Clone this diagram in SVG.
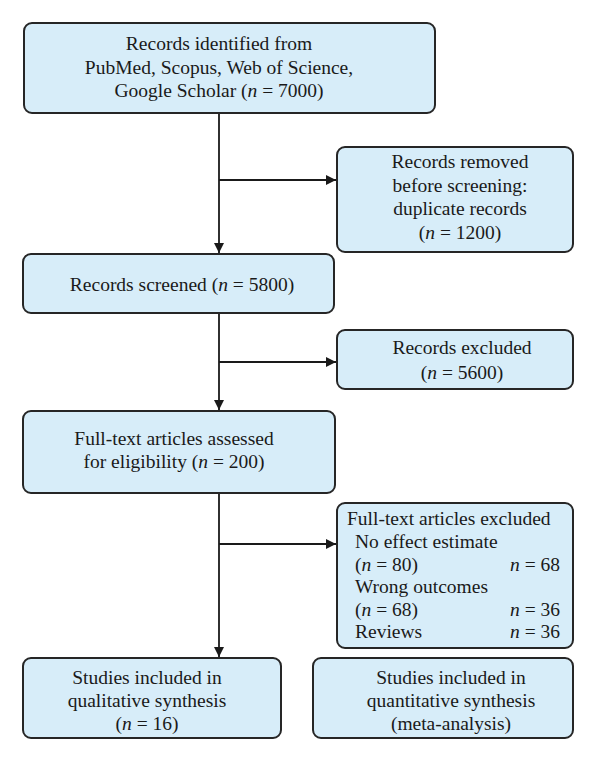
<svg xmlns="http://www.w3.org/2000/svg" width="600" height="763" viewBox="0 0 600 763">
<defs>
<style>
.box{fill:#d7edf9;stroke:#262626;stroke-width:2}
.t{font-family:"Liberation Serif","Times New Roman",serif;font-size:19.5px;fill:#1a1a1a}
.c{text-anchor:middle}
.r{text-anchor:end}
.ln{stroke:#1a1a1a;stroke-width:1.8;fill:none}
</style>
<marker id="ah" viewBox="0 0 10 10" refX="10" refY="5" markerWidth="10" markerHeight="10" markerUnits="userSpaceOnUse" orient="auto">
<path d="M0,0 L10,5 L0,10 z" fill="#1a1a1a"/>
</marker>
</defs>
<rect width="600" height="763" fill="#ffffff"/>
<g id="connectors">
<line class="ln" x1="219" y1="113" x2="219" y2="253" marker-end="url(#ah)"/>
<line class="ln" x1="219" y1="180" x2="336" y2="180" marker-end="url(#ah)"/>
<line class="ln" x1="219" y1="313" x2="219" y2="410" marker-end="url(#ah)"/>
<line class="ln" x1="219" y1="362" x2="336" y2="362" marker-end="url(#ah)"/>
<line class="ln" x1="219" y1="493" x2="219" y2="657" marker-end="url(#ah)"/>
<line class="ln" x1="219" y1="544" x2="336" y2="544" marker-end="url(#ah)"/>
</g>
<g id="n1">
<rect class="box" x="24" y="23" width="411" height="90" rx="8"/>
<text class="t c" x="219" y="50">Records identified from</text>
<text class="t c" x="219" y="74">PubMed, Scopus, Web of Science,</text>
<text class="t c" x="219" y="97">Google Scholar (<tspan font-style="italic">n</tspan> = 7000)</text>
</g>
<g id="n2">
<rect class="box" x="337" y="147" width="236" height="105" rx="8"/>
<text class="t c" x="460" y="168">Records removed</text>
<text class="t c" x="460" y="192">before screening:</text>
<text class="t c" x="460" y="215">duplicate records</text>
<text class="t c" x="460" y="239">(<tspan font-style="italic">n</tspan> = 1200)</text>
</g>
<g id="n3">
<rect class="box" x="23" y="254" width="311" height="59" rx="8"/>
<text class="t c" x="182" y="291">Records screened (<tspan font-style="italic">n</tspan> = 5800)</text>
</g>
<g id="n4">
<rect class="box" x="337" y="330" width="236" height="59" rx="8"/>
<text class="t c" x="462" y="354">Records excluded</text>
<text class="t c" x="462" y="379">(<tspan font-style="italic">n</tspan> = 5600)</text>
</g>
<g id="n5">
<rect class="box" x="23" y="411" width="312" height="82" rx="8"/>
<text class="t c" x="174" y="445">Full-text articles assessed</text>
<text class="t c" x="174" y="468">for eligibility (<tspan font-style="italic">n</tspan> = 200)</text>
</g>
<g id="n6">
<rect class="box" x="337" y="503" width="236" height="145" rx="8"/>
<text class="t" x="347" y="525">Full-text articles excluded</text>
<text class="t" x="355" y="548">No effect estimate</text>
<text class="t" x="355" y="571">(<tspan font-style="italic">n</tspan> = 80)</text>
<text class="t r" x="560" y="571"><tspan font-style="italic">n</tspan> = 68</text>
<text class="t" x="355" y="593">Wrong outcomes</text>
<text class="t" x="355" y="616">(<tspan font-style="italic">n</tspan> = 68)</text>
<text class="t r" x="560" y="616"><tspan font-style="italic">n</tspan> = 36</text>
<text class="t" x="355" y="638">Reviews</text>
<text class="t r" x="560" y="638"><tspan font-style="italic">n</tspan> = 36</text>
</g>
<g id="n7">
<rect class="box" x="23" y="658" width="258" height="80" rx="8"/>
<text class="t c" x="147" y="684">Studies included in</text>
<text class="t c" x="147" y="707">qualitative synthesis</text>
<text class="t c" x="147" y="730">(<tspan font-style="italic">n</tspan> = 16)</text>
</g>
<g id="n8">
<rect class="box" x="313" y="658" width="260" height="80" rx="8"/>
<text class="t c" x="451" y="684">Studies included in</text>
<text class="t c" x="451" y="707">quantitative synthesis</text>
<text class="t c" x="451" y="730">(meta-analysis)</text>
</g>
</svg>
